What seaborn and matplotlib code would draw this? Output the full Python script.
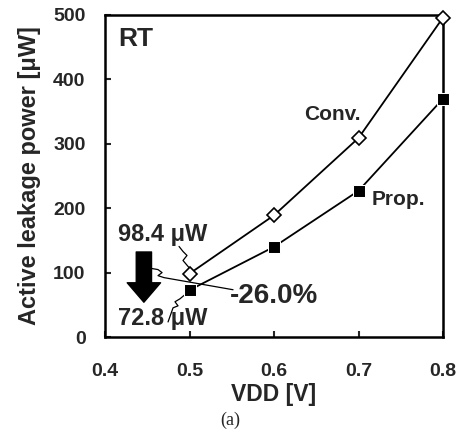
import numpy as np
import pandas as pd
import matplotlib
matplotlib.use("Agg")
import matplotlib.pyplot as plt
import seaborn as sns

sns.set_theme(style="ticks")
plt.rcParams["font.family"] = ["Liberation Sans", "DejaVu Sans"]
plt.rcParams["font.weight"] = "bold"

vdd = [0.5, 0.6, 0.7, 0.8]
conv = [98.4, 189, 309, 496]
prop = [72.8, 140, 227, 370]

df = pd.DataFrame({
    "VDD": vdd * 2,
    "power": conv + prop,
    "type": ["Conv."] * 4 + ["Prop."] * 4,
})

fig = plt.figure(figsize=(4.61, 4.32), dpi=100)
ax = fig.add_axes([0.2278, 0.2199, 0.7332, 0.7454])

sns.lineplot(data=df, x="VDD", y="power", hue="type", style="type",
             markers={"Conv.": "D", "Prop.": "s"}, dashes=False,
             palette={"Conv.": "black", "Prop.": "black"},
             linewidth=1.3, markersize=8.5, ax=ax, legend=False)
# open diamond for Conv.
ax.lines[0].set_markerfacecolor("white")
ax.lines[0].set_markeredgecolor("black")
ax.lines[0].set_markeredgewidth(1.2)
ax.lines[0].set_markersize(7.5)
ax.lines[1].set_markerfacecolor("black")
for ln in ax.lines:
    ln.set_clip_on(False)
    ln.set_zorder(5)

ax.set_xlim(0.4, 0.8)
ax.set_ylim(0, 500)
ax.set_xticks([0.4, 0.5, 0.6, 0.7, 0.8])
ax.set_yticks([0, 100, 200, 300, 400, 500])
ax.tick_params(direction="in", length=4, width=1.5, labelsize=14)
ax.tick_params(axis="x", pad=19)
ax.tick_params(axis="y", pad=14)
for s in ax.spines.values():
    s.set_linewidth(1.8)
    s.set_color("black")
ax.set_xlabel("VDD [V]", fontsize=16.5, fontweight="bold", labelpad=2)
ax.set_ylabel("Active leakage power [\u03bcW]", fontsize=17, fontweight="bold", labelpad=9)

ax.text(0.4154, 462, "RT", fontsize=19, fontweight="bold", ha="left", va="center")
ax.text(0.669, 345, "Conv.", fontsize=15, fontweight="bold", ha="center", va="center")
ax.text(0.716, 214, "Prop.", fontsize=15, fontweight="bold", ha="left", va="center")

ax.text(0.4154, 159, "98.4 \u03bcW", fontsize=17, fontweight="bold", ha="left", va="center")
ax.text(0.4154, 29, "72.8 \u03bcW", fontsize=17, fontweight="bold", ha="left", va="center")
ax.text(0.548, 63, "-26.0%", fontsize=20, fontweight="bold", ha="left", va="center")

# big down arrow
ax.annotate("", xy=(0.446, 54), xytext=(0.446, 132),
            arrowprops=dict(arrowstyle="simple,head_width=2.4,head_length=1.4,tail_width=1.1",
                            mutation_scale=10, fc="black", ec="black", shrinkA=0, shrinkB=0))

# leader lines
ax.plot([0.4876, 0.4923, 0.4970, 0.4923, 0.4994], [140.6, 132.8, 126.6, 118.8, 107.8],
        color="black", lw=0.9)
ax.plot([0.4556, 0.4627, 0.4675, 0.4627, 0.4698, 0.5515], [106.3, 104.7, 100, 95.3, 92.2, 73.4],
        color="black", lw=0.9)
ax.plot([0.4746, 0.4805, 0.4864, 0.4828, 0.4888, 0.4959], [23.4, 45.3, 48.4, 54.7, 59.4, 67.2],
        color="black", lw=0.9)

fig.text(0.5, 0.028, "(a)", fontsize=13, family=["Liberation Serif"], fontweight="normal",
         ha="center", va="center")

fig.savefig("out.png", dpi=100)
